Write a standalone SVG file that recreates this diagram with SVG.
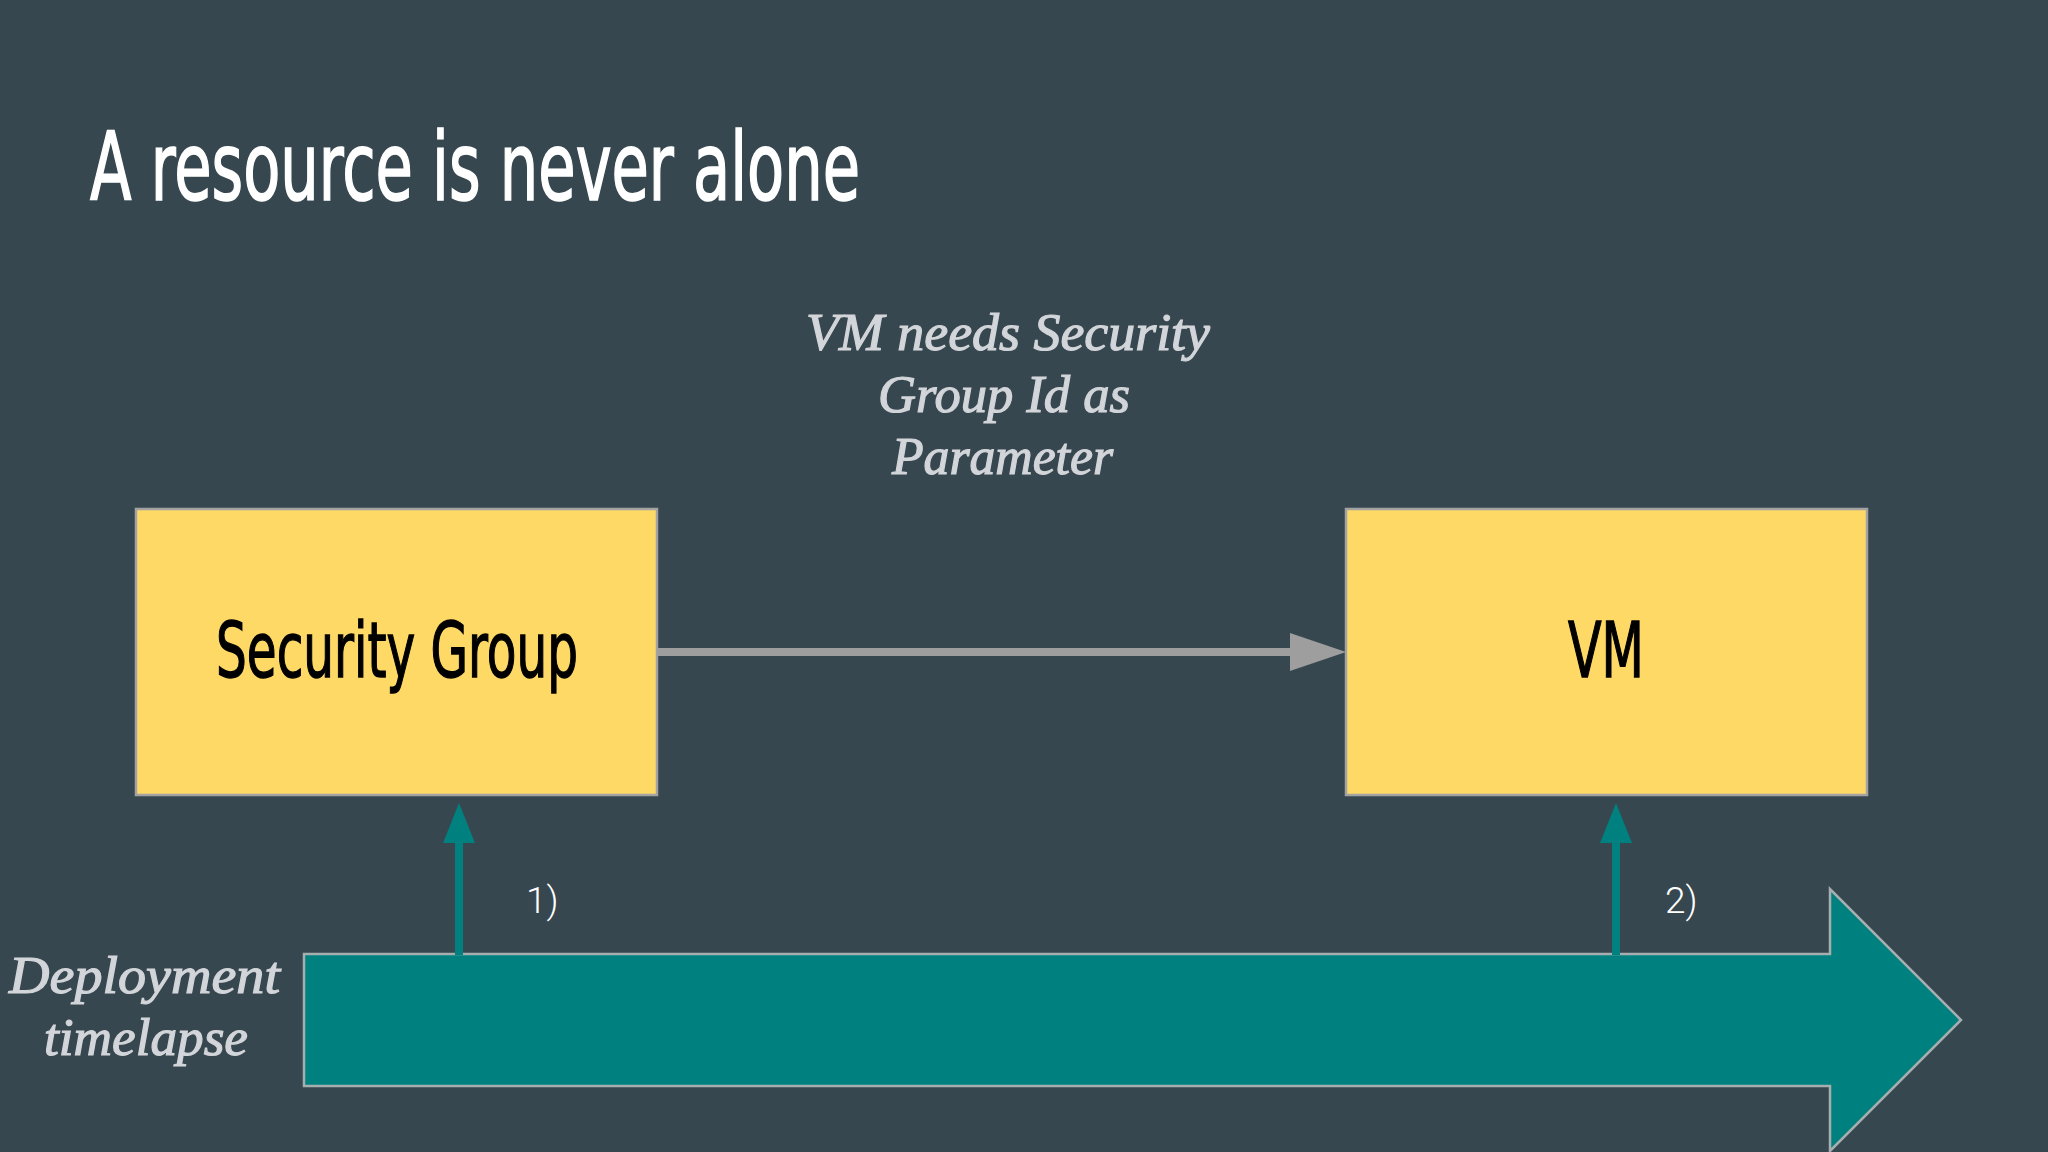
<svg xmlns="http://www.w3.org/2000/svg" width="2048" height="1152" viewBox="0 0 2048 1152">
<style>
.cond{font-family:"Liberation Sans Narrow","DejaVu Sans Condensed","Liberation Sans",sans-serif;font-stretch:condensed}
.title{fill:#ffffff;stroke:#ffffff;stroke-width:1.6;font-size:95px}
.box{fill:#ffd966;stroke:#a3a3a3;stroke-width:2.5}
.boxlabel{fill:#000000;stroke:#000000;stroke-width:1.4;font-size:77px}
.ital{font-family:"Liberation Serif","DejaVu Serif",serif;font-style:italic;fill:#d2d5d9;stroke:#d2d5d9;stroke-width:1.2;font-size:52px}
.num{font-family:Roboto,"Liberation Sans",sans-serif;font-weight:300;fill:#ffffff;font-size:37px}
.teal{fill:#00807e}
</style>
<rect x="0" y="0" width="2048" height="1152" fill="#37474f"/>
<text class="cond title" x="90" y="200" textLength="770" lengthAdjust="spacingAndGlyphs">A resource is never alone</text>
<g id="caption">
<text class="ital" x="806" y="350" textLength="404" lengthAdjust="spacingAndGlyphs">VM needs Security</text>
<text class="ital" x="878" y="412" textLength="252" lengthAdjust="spacingAndGlyphs">Group Id as</text>
<text class="ital" x="892" y="474" textLength="221" lengthAdjust="spacingAndGlyphs">Parameter</text>
</g>
<g id="timeline">
<polygon points="304,954 1830,954 1830,889 1961,1020 1830,1151 1830,1086 304,1086" fill="#00807e" stroke="#a6aeb0" stroke-width="2.5"/>
<text class="ital" x="9" y="993" textLength="271" lengthAdjust="spacingAndGlyphs">Deployment</text>
<text class="ital" x="44" y="1055" textLength="204" lengthAdjust="spacingAndGlyphs">timelapse</text>
</g>
<g id="security-group">
<rect class="box" x="136" y="509" width="521" height="286"/>
<text class="cond boxlabel" x="216" y="677" textLength="362" lengthAdjust="spacingAndGlyphs">Security Group</text>
</g>
<g id="vm">
<rect class="box" x="1346" y="509" width="521" height="286"/>
<text class="cond boxlabel" x="1568" y="677" textLength="76" lengthAdjust="spacingAndGlyphs">VM</text>
</g>
<g id="connectors">
<line x1="658" y1="652" x2="1292" y2="652" stroke="#9e9e9e" stroke-width="8"/>
<polygon points="1290,633 1346,652 1290,671" fill="#9e9e9e"/>
<line x1="459" y1="955" x2="459" y2="840" stroke="#00807e" stroke-width="8"/>
<polygon class="teal" points="459,803 443,843 475,843"/>
<line x1="1616" y1="955" x2="1616" y2="840" stroke="#00807e" stroke-width="8"/>
<polygon class="teal" points="1616,803 1600,843 1632,843"/>
<text class="num" x="526" y="913">1)</text>
<text class="num" x="1665" y="913">2)</text>
</g>
</svg>
